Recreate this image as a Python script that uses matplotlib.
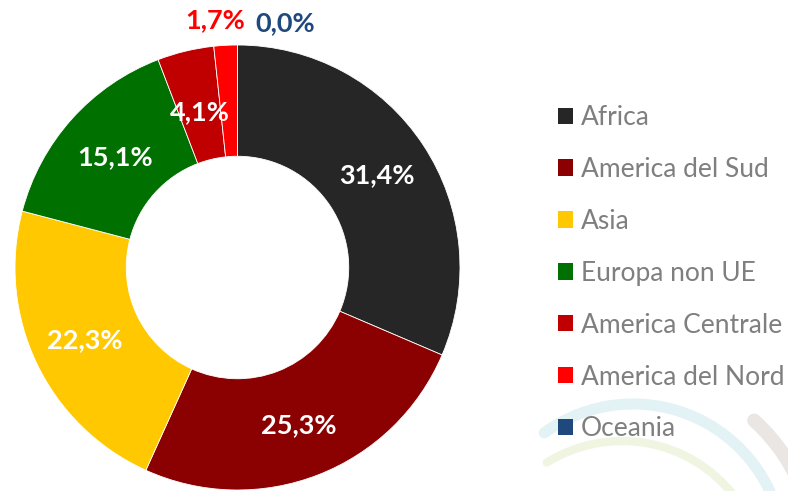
import matplotlib
matplotlib.use('Agg')
import matplotlib.pyplot as plt
from matplotlib.patches import Patch, Arc
import numpy as np

# dati del grafico
aree = ['Africa', 'America del Sud', 'Asia', 'Europa non UE',
        'America Centrale', 'America del Nord', 'Oceania']
quote = [31.4, 25.3, 22.3, 15.1, 4.1, 1.7, 0.0]
etichette = ['31,4%', '25,3%', '22,3%', '15,1%', '4,1%', '1,7%', '0,0%']
colori = ['#262626', '#8B0000', '#FFC800', '#007000', '#C00000', '#FF0000', '#1F497D']

plt.rcParams['font.family'] = ['Lato', 'DejaVu Sans']

fig = plt.figure(figsize=(7.88, 4.91), dpi=100)

# archi decorativi del logo sullo sfondo (in pixel, y verso l'alto)
bg = fig.add_axes([0, 0, 1, 1], zorder=0)
bg.set_xlim(0, 788)
bg.set_ylim(0, 491)
bg.axis('off')
bg.add_patch(Arc((633, -64), 302, 302, theta1=25, theta2=126, color='#E2F2F5',
                 lw=8, capstyle='round'))
bg.add_patch(Arc((622, -92), 284, 284, theta1=38, theta2=122, color='#F0F5E2',
                 lw=6, capstyle='round'))
bg.add_patch(Arc((633, -64), 362, 362, theta1=18, theta2=48, color='#EAE6E3',
                 lw=10, capstyle='round'))

ax = fig.add_axes([14 / 788, 1 / 491, 447 / 788, 445 / 491], zorder=1)
wedges, _ = ax.pie(quote, colors=colori, startangle=90, counterclock=False,
                   radius=1.0, wedgeprops=dict(width=0.5, edgecolor='white', linewidth=0.6))
ax.set_xlim(-1, 1)
ax.set_ylim(-1, 1)
ax.set_aspect('equal')
ax.axis('off')

# etichette percentuali dentro le fette
raggi = [0.75, 0.76, 0.76, 0.74, 0.72]
for w, lab, r in zip(wedges[:5], etichette[:5], raggi):
    ang = np.deg2rad((w.theta1 + w.theta2) / 2)
    ax.text(r * np.cos(ang), r * np.sin(ang), lab, ha='center', va='center',
            color='white', fontsize=19.5, fontweight='bold')

# le due fette piccole hanno l'etichetta fuori
ax.text(-0.10, 1.11, etichette[5], ha='center', va='center', color=colori[5],
        fontsize=19.5, fontweight='bold', clip_on=False)
ax.text(0.215, 1.10, etichette[6], ha='center', va='center', color=colori[6],
        fontsize=19.5, fontweight='bold', clip_on=False)

maniglie = [Patch(facecolor=c, edgecolor='none') for c in colori]
leg = fig.legend(maniglie, aree, loc='upper left', bbox_to_anchor=(558 / 788, 1 - 105 / 491),
                 frameon=False, fontsize=19, handlelength=0.57, handleheight=0.57,
                 handletextpad=0.3, labelspacing=1.02, borderaxespad=0, borderpad=0)
for t in leg.get_texts():
    t.set_color('#7F7F7F')

fig.savefig('out.png', dpi=100)
